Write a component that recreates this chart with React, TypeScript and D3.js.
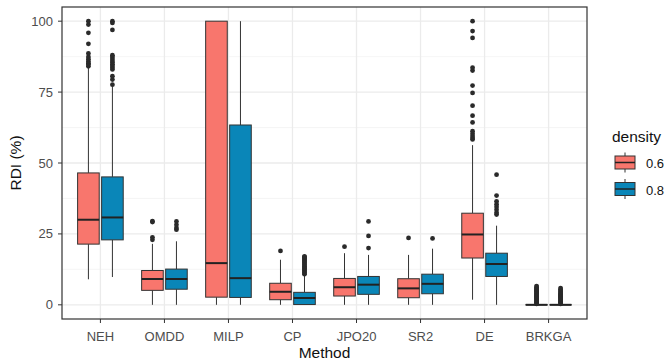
import * as d3 from "d3"

const methods = ["NEH", "OMDD", "MILP", "CP", "JPO20", "SR2", "DE", "BRKGA"]
const densities = ["0.6", "0.8"]
const fills = ["#F8766D", "#0A86B8"]
const yTicks = [0, 25, 50, 75, 100]
const yMinor = [12.5, 37.5, 62.5, 87.5]

// box stats for density 0.6
const low06 = [9, 0, 0, 0, 0, 0, 1.8, 0]
const q1_06 = [21.4, 5.1, 2.7, 1.8, 3.1, 2.5, 16.5, 0]
const med06 = [30, 9.1, 14.7, 4.6, 6.2, 5.8, 24.8, 0]
const q3_06 = [46.5, 12.1, 100, 7.6, 9.3, 9.2, 32.3, 0]
const high06 = [83.6, 21.5, 100, 15.9, 18.2, 17.6, 56.3, 0]
const out06 = [
  [84.1, 84.7, 85.2, 85.8, 86.6, 87.4, 88.6, 92, 95.9, 98.8, 100],
  [22.9, 23.8, 29.2, 29.5],
  [],
  [19],
  [20.5],
  [23.6],
  [58.3, 58.8, 59.5, 60.3, 61.2, 64.3, 66.7, 70.2, 74.7, 77.3, 82.6, 83.6, 94.1, 96.5, 100],
  [0.3, 0.6, 0.9, 1.2, 1.5, 1.8, 2.1, 2.4, 2.7, 3, 3.3, 3.6, 3.9, 4.2, 4.5, 4.8, 5.1, 5.4, 5.8, 6.2, 6.6],
]

// box stats for density 0.8
const low08 = [9.8, 0, 0, 0, 0, 0, 0, 0]
const q1_08 = [22.9, 5.5, 2.6, 0.1, 3.7, 3.9, 10, 0]
const med08 = [30.8, 9.1, 9.4, 2.4, 7.1, 7.4, 14.4, 0]
const q3_08 = [45.1, 12.6, 63.4, 4.4, 10, 10.8, 18.2, 0]
const high08 = [77, 22.4, 100, 10.4, 17.6, 19.8, 27.9, 0]
const out08 = [
  [77.6, 79.4, 80.6, 83, 83.6, 84.2, 84.8, 85.4, 86, 86.7, 87.4, 88, 96.9, 99.4, 100],
  [26.5, 27.1, 28.2, 29.4],
  [],
  [10.8, 11.2, 11.6, 12, 12.4, 12.8, 13.2, 13.6, 14, 14.4, 14.8, 15.2, 15.6, 16, 16.4, 16.8, 17.1],
  [20, 24.3, 29.4],
  [23.4],
  [31.8, 32.5, 33.5, 34.5, 35.5, 36.5, 38.5, 45.9],
  [0.3, 0.6, 0.9, 1.2, 1.5, 1.8, 2.1, 2.4, 2.7, 3, 3.3, 3.6, 3.9, 4.2, 4.6, 5, 5.4, 5.9],
]

const lows = [low06, low08]
const q1s = [q1_06, q1_08]
const meds = [med06, med08]
const q3s = [q3_06, q3_08]
const highs = [high06, high08]
const outs = [out06, out08]

const W = 666
const H = 363
const panel = { left: 62, right: 587, top: 7, bottom: 319 }
const font = "'Liberation Sans', Arial, sans-serif"

export default function App() {
  const x = d3.scalePoint<string>().domain(methods).range([panel.left, panel.right]).padding(0.6)
  const y = d3.scaleLinear().domain([-5, 105]).range([panel.bottom, panel.top])
  const step = x.step()
  const sub = (step * 0.75) / 2
  const boxW = sub * 0.9

  return (
    <svg width={W} height={H} style={{ position: "absolute", left: 0, top: 0, background: "#fff" }}>
      <rect x={panel.left} y={panel.top} width={panel.right - panel.left} height={panel.bottom - panel.top} fill="#fff" />
      {yMinor.map(t => (
        <line key={"mi" + t} x1={panel.left} x2={panel.right} y1={y(t)} y2={y(t)} stroke="#f0f0f0" strokeWidth={0.7} />
      ))}
      {yTicks.map(t => (
        <line key={"ma" + t} x1={panel.left} x2={panel.right} y1={y(t)} y2={y(t)} stroke="#ebebeb" strokeWidth={1.3} />
      ))}
      {methods.map(m => (
        <line key={"vg" + m} x1={x(m)} x2={x(m)} y1={panel.top} y2={panel.bottom} stroke="#ebebeb" strokeWidth={1.3} />
      ))}

      {densities.map((d, di) =>
        methods.map((m, i) => {
          const cx = (x(m) as number) + (di === 0 ? -sub / 2 : sub / 2)
          const x0 = cx - boxW / 2
          return (
            <g key={d + m}>
              <line x1={cx} x2={cx} y1={y(highs[di][i])} y2={y(q3s[di][i])} stroke="#333" strokeWidth={1} />
              <line x1={cx} x2={cx} y1={y(q1s[di][i])} y2={y(lows[di][i])} stroke="#333" strokeWidth={1} />
              <rect x={x0} width={boxW} y={y(q3s[di][i])} height={Math.max(0.01, y(q1s[di][i]) - y(q3s[di][i]))}
                fill={fills[di]} stroke="#333" strokeWidth={1} />
              <line x1={x0} x2={x0 + boxW} y1={y(meds[di][i])} y2={y(meds[di][i])} stroke="#222" strokeWidth={2} />
              {outs[di][i].map((v, k) => (
                <circle key={k} cx={cx} cy={y(v)} r={2.4} fill="#2a2a2a" />
              ))}
            </g>
          )
        })
      )}

      <rect x={panel.left} y={panel.top} width={panel.right - panel.left} height={panel.bottom - panel.top}
        fill="none" stroke="#333" strokeWidth={1.2} />

      {yTicks.map(t => (
        <g key={"yt" + t}>
          <line x1={panel.left - 4} x2={panel.left} y1={y(t)} y2={y(t)} stroke="#333" strokeWidth={1} />
          <text x={panel.left - 9} y={y(t)} dy="0.35em" textAnchor="end" fontFamily={font} fontSize={13} fill="#4d4d4d">{t}</text>
        </g>
      ))}
      {methods.map(m => (
        <g key={"xt" + m}>
          <line x1={x(m)} x2={x(m)} y1={panel.bottom} y2={panel.bottom + 4} stroke="#333" strokeWidth={1} />
          <text x={x(m)} y={336} dy="0.35em" textAnchor="middle" fontFamily={font} fontSize={13} fill="#4d4d4d">{m}</text>
        </g>
      ))}
      <text x={(panel.left + panel.right) / 2} y={353} dy="0.35em" textAnchor="middle" fontFamily={font} fontSize={15.5} fill="#111">Method</text>
      <text transform={`translate(16,${(panel.top + panel.bottom) / 2}) rotate(-90)`} dy="0.35em" textAnchor="middle"
        fontFamily={font} fontSize={15.5} fill="#111">RDI (%)</text>

      <g>
        <text x={612} y={137} dy="0.35em" fontFamily={font} fontSize={15.5} fill="#111">density</text>
        {densities.map((d, di) => {
          const ky = 162.5 + di * 26.5
          return (
            <g key={"lg" + d}>
              <line x1={625} x2={625} y1={ky - 10} y2={ky + 10} stroke="#333" strokeWidth={1} />
              <rect x={615} y={ky - 6.5} width={20} height={13} fill={fills[di]} stroke="#333" strokeWidth={1} />
              <line x1={615} x2={635} y1={ky} y2={ky} stroke="#222" strokeWidth={1.5} />
              <text x={646} y={ky + 1} dy="0.35em" fontFamily={font} fontSize={13} fill="#111">{d}</text>
            </g>
          )
        })}
      </g>
    </svg>
  )
}
